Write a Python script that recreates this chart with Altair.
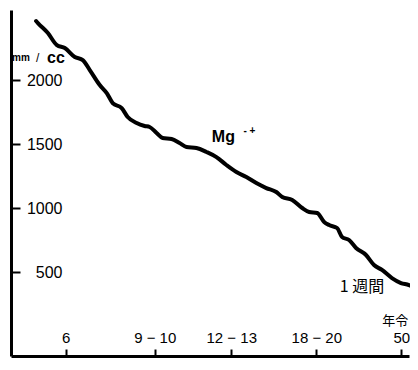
import altair as alt
import pandas as pd

# Mg++ curve: x in relative age-scale units, y in mm/cc
curve_x = [6.2, 6.65, 9.11, 11.33, 13.3, 15.76, 17.73, 19.46, 21.92, 23.65, 25.12, 27.34,
           28.82, 31.03, 33.0, 34.24, 35.96, 37.44, 39.66, 41.63, 43.35, 45.81, 48.28, 50.74,
           53.2, 55.67, 58.13, 60.59, 63.05, 65.52, 67.0, 69.46, 71.92, 73.65, 75.62, 77.34,
           78.57, 80.54, 81.77, 83.5, 85.22, 87.68, 89.66, 91.63, 94.09, 96.31, 98.28, 99.75]
curve_y = [2461, 2445, 2367, 2273, 2250, 2180, 2156, 2078, 1961, 1898, 1820, 1781,
           1711, 1664, 1641, 1633, 1586, 1547, 1539, 1508, 1477, 1469, 1438, 1398,
           1336, 1281, 1242, 1195, 1156, 1125, 1086, 1063, 1000, 969, 961, 891,
           867, 844, 773, 750, 688, 633, 555, 516, 453, 414, 398, 375]

x_tick_pos = [13.5, 35.5, 54.4, 75.4, 96.4]
x_tick_labels = ["6", "9 − 10", "12 − 13", "18 − 20", "50"]
y_tick_values = [500, 1000, 1500, 2000]

ann_text = ["年令", "mm", "/", "cc", "Mg", "- +", "1 週間"]
ann_x = [98.1, 0.25, 6.6, 8.9, 49.6, 57.4, 81.2]
ann_y = [120, 2172, 2172, 2172, 1555, 1602, 383]
ann_size = [13, 10, 12, 16, 16, 10, 16]
ann_weight = ["normal", "bold", "normal", "bold", "bold", "bold", "normal"]
ann_align = ["right", "left", "center", "left", "left", "left", "left"]

W, H = 398, 346
XD = [0, 98.3]
YD = [-156, 2547]

df = pd.DataFrame({"x": curve_x, "y": curve_y})
ann = pd.DataFrame({"t": ann_text, "x": ann_x, "y": ann_y})

label_expr = " : ".join(
    f"abs(datum.value - {p}) < 0.01 ? '{l}'" for p, l in zip(x_tick_pos, x_tick_labels)
) + " : ''"

xs = alt.Scale(domain=XD, nice=False, zero=False)
ys = alt.Scale(domain=YD, nice=False, zero=False)

x_axis = alt.Axis(
    orient="top", offset=-H, values=x_tick_pos, labelExpr=label_expr, title=None,
    grid=False, domainWidth=3, domainColor="black", tickColor="black", tickWidth=2,
    tickSize=7, labelPadding=4, labelFontSize=15, labelFont="Liberation Sans",
    labelColor="black", labelAngle=0, labelOverlap=False, labelFlush=False)
y_axis = alt.Axis(
    orient="right", offset=-W, values=y_tick_values, format="d", title=None, grid=False,
    domainWidth=3, domainColor="black", tickColor="black", tickWidth=2, tickSize=9,
    labelAlign="right", labelPadding=42, labelFontSize=16, labelFont="Liberation Sans",
    labelColor="black", labelOverlap=False, labelFlush=False)

line = alt.Chart(df).mark_line(color="black", strokeWidth=4, interpolate="monotone",
                               strokeCap="round", strokeJoin="round").encode(
    x=alt.X("x:Q", scale=xs, axis=x_axis),
    y=alt.Y("y:Q", scale=ys, axis=y_axis),
)

layers = [line]
for i in range(len(ann_text)):
    sub = ann.iloc[[i]]
    font = "Noto Sans CJK JP" if any(ord(c) > 255 for c in ann_text[i]) else "Liberation Sans"
    layers.append(alt.Chart(sub).mark_text(
        fontSize=ann_size[i], fontWeight=ann_weight[i], align=ann_align[i],
        baseline="middle", color="black", font=font).encode(
        x=alt.X("x:Q", scale=xs, axis=x_axis),
        y=alt.Y("y:Q", scale=ys, axis=y_axis),
        text="t:N"))

chart = alt.layer(*layers).properties(
    width=W, height=H, autosize="none",
    padding={"left": 3, "top": 2, "right": 1, "bottom": 2},
    background="white",
).configure_view(stroke=None)

chart.save("out.html", embed_options={"renderer": "svg", "actions": False})
